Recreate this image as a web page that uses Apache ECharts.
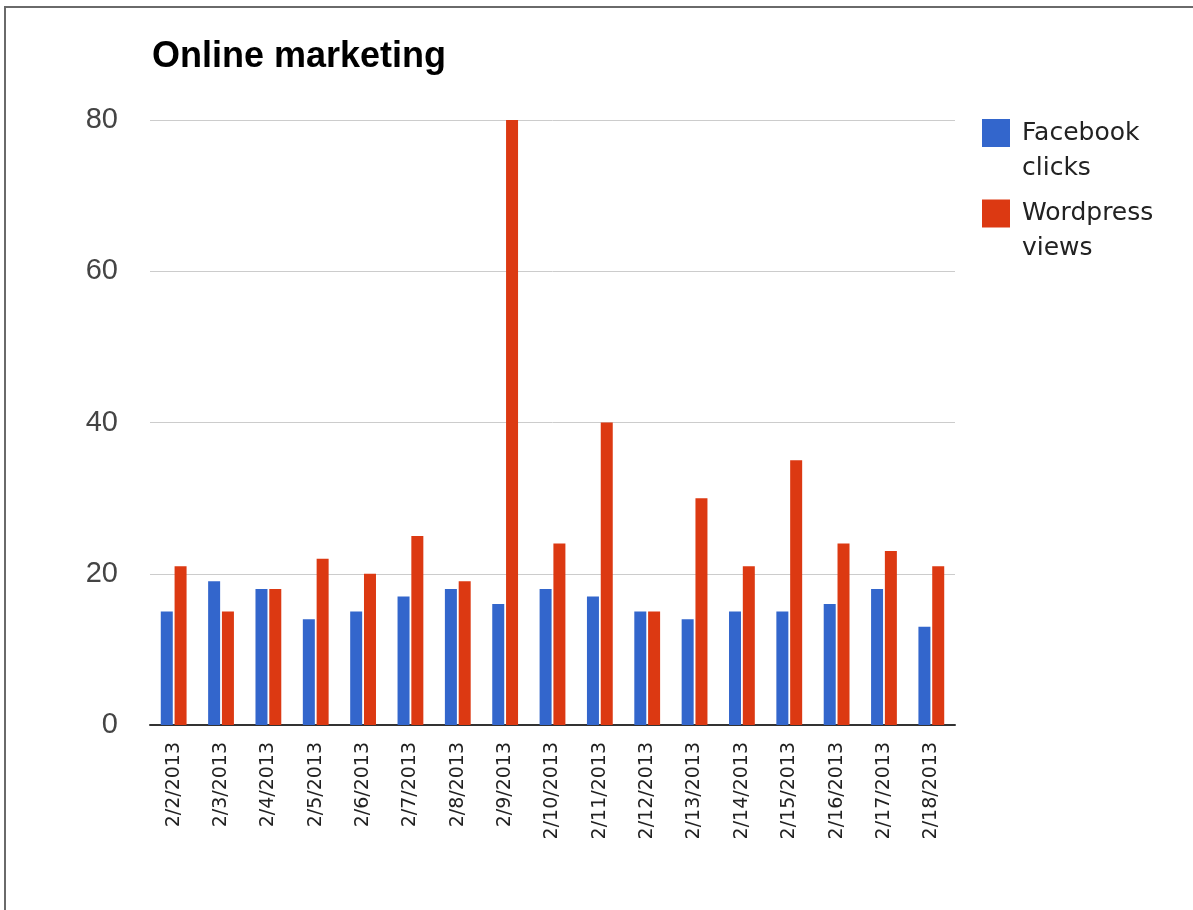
<!DOCTYPE html>
<html>
<head>
<meta charset="utf-8">
<title>Online marketing</title>
<script src="https://cdn.jsdelivr.net/npm/echarts@6/dist/echarts.min.js"></script>
<style>
  html, body { margin: 0; padding: 0; background: #fff; }
  .frame {
    position: absolute;
    left: 4px;
    top: 6px;
    right: 0;
    bottom: 0;
    border-top: 2px solid #6a6a6a;
    border-left: 2px solid #6a6a6a;
  }
  #chart { position: absolute; left: 0; top: 0; width: 1193px; height: 910px; }
</style>
</head>
<body>
<div class="frame"></div>
<div id="chart"></div>
<script>
const dates = [
  "2/2/2013", "2/3/2013", "2/4/2013", "2/5/2013", "2/6/2013", "2/7/2013",
  "2/8/2013", "2/9/2013", "2/10/2013", "2/11/2013", "2/12/2013", "2/13/2013",
  "2/14/2013", "2/15/2013", "2/16/2013", "2/17/2013", "2/18/2013"
];
const facebookClicks = [15, 19, 18, 14, 15, 17, 18, 16, 18, 17, 15, 14, 15, 15, 16, 18, 13];
const wordpressViews = [21, 15, 18, 22, 20, 25, 19, 80, 24, 40, 15, 30, 21, 35, 24, 23, 21];
const yTicks = [0, 20, 40, 60, 80];

const chart = echarts.init(document.getElementById("chart"));

// legend names wrap onto two lines, first line level with the swatch
// (the empty "s" line pushes the text block down so it isn't centred on the icon)
const legendLabel = (name) => {
  const words = name.split(" ");
  return "{s| }\n{t|" + words[0] + "}\n{t|" + words[1] + "}";
};

const option = {
  animation: false,
  color: ["#3366cc", "#dc3912"],
  title: {
    text: "Online marketing",
    left: 147,
    top: 34,
    textStyle: {
      fontFamily: "Liberation Sans",
      fontWeight: "bold",
      fontSize: 36,
      color: "#000"
    }
  },
  legend: {
    orient: "vertical",
    left: 977,
    top: 88,
    itemWidth: 28,
    itemHeight: 28,
    itemGap: -7,
    icon: "rect",
    formatter: legendLabel,
    textStyle: {
      rich: {
        s: { fontSize: 10, lineHeight: 35 },
        t: {
          fontFamily: "DejaVu Sans",
          fontSize: 25,
          lineHeight: 35,
          color: "#222",
          padding: [0, 0, 0, 7]
        }
      }
    }
  },
  grid: {
    left: 150,
    right: 238,
    top: 120,
    bottom: 185,
    containLabel: false
  },
  xAxis: {
    type: "category",
    data: dates,
    axisLine: { lineStyle: { color: "#333", width: 2 } },
    axisTick: { show: false },
    axisLabel: {
      rotate: 90,
      margin: 17,
      interval: 0,
      fontFamily: "DejaVu Sans",
      fontSize: 19,
      color: "#222"
    }
  },
  yAxis: {
    type: "value",
    min: yTicks[0],
    max: yTicks[yTicks.length - 1],
    interval: 20,
    axisLine: { show: false },
    axisTick: { show: false },
    splitLine: { lineStyle: { color: "#cccccc", width: 1 } },
    axisLabel: {
      margin: 32,
      fontFamily: "Liberation Sans",
      fontSize: 29,
      color: "#444"
    }
  },
  series: [
    {
      name: "Facebook clicks",
      type: "bar",
      data: facebookClicks,
      barWidth: 12,
      barGap: "15%"
    },
    {
      name: "Wordpress views",
      type: "bar",
      data: wordpressViews,
      barWidth: 12,
      barGap: "15%"
    }
  ]
};

chart.setOption(option);
</script>
</body>
</html>
